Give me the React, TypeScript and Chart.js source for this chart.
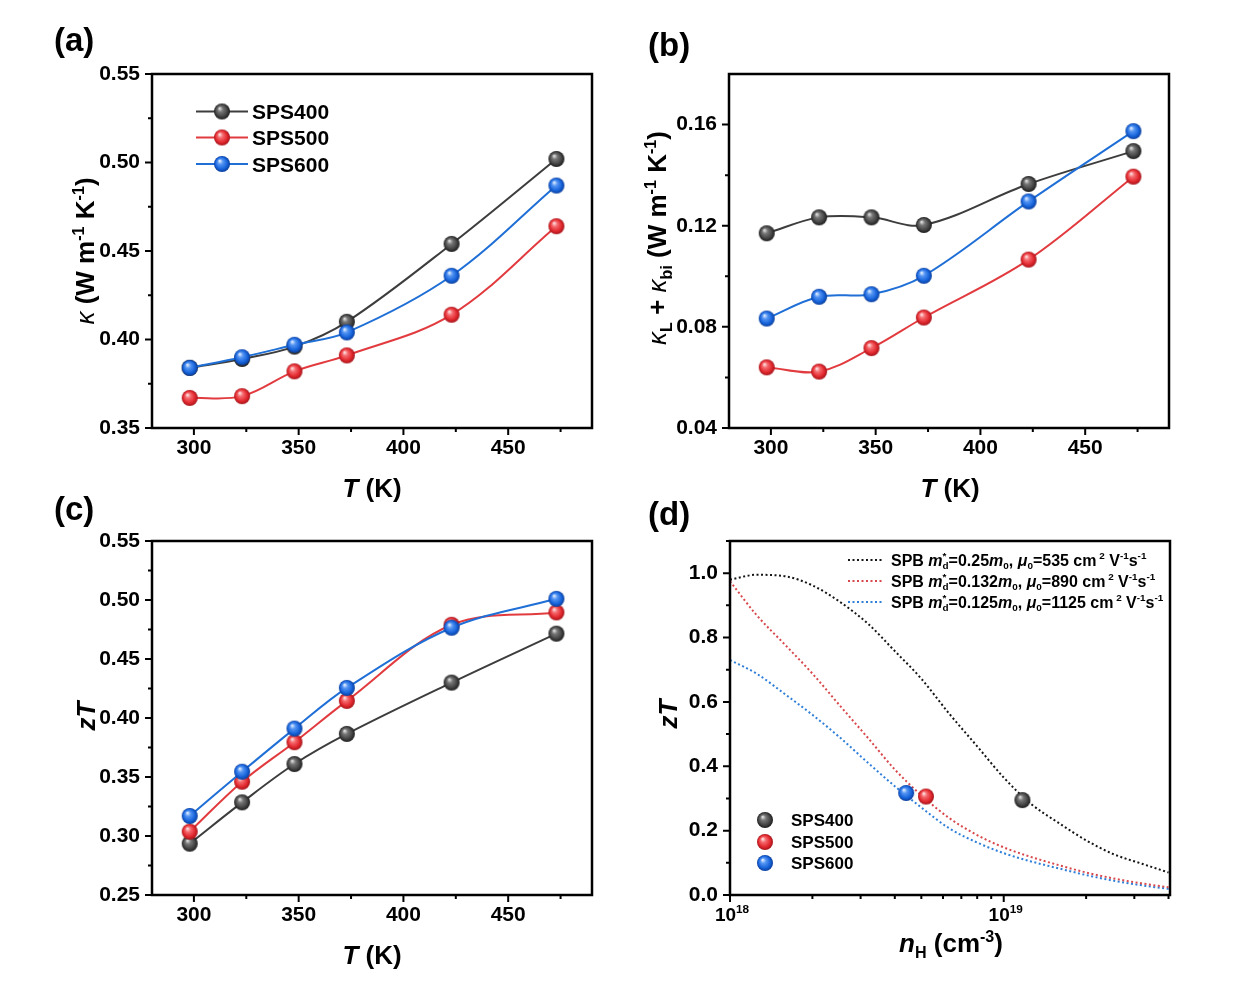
import React, { useEffect, useRef } from 'react';
import { Chart, registerables } from 'chart.js';

Chart.register(...registerables);

// ---------------- data ----------------
const seriesNames = ['SPS400', 'SPS500', 'SPS600'];
const temperatures = [298, 323, 348, 373, 423, 473];

const kappaSPS400 = [0.384, 0.389, 0.396, 0.41, 0.454, 0.502];
const kappaSPS500 = [0.367, 0.368, 0.382, 0.391, 0.414, 0.464];
const kappaSPS600 = [0.384, 0.39, 0.397, 0.404, 0.436, 0.487];

const kLbiSPS400 = [0.117, 0.1233, 0.1233, 0.1203, 0.1365, 0.1495];
const kLbiSPS500 = [0.064, 0.0623, 0.0716, 0.0837, 0.1066, 0.1394];
const kLbiSPS600 = [0.0833, 0.0919, 0.0929, 0.1002, 0.1296, 0.1574];

const zTSPS400 = [0.2935, 0.3285, 0.361, 0.3865, 0.43, 0.4715];
const zTSPS500 = [0.3037, 0.346, 0.3795, 0.4145, 0.479, 0.4895];
const zTSPS600 = [0.317, 0.3545, 0.391, 0.4255, 0.4765, 0.501];

const nHGrid = [1e18, 1.25e18, 1.6e18, 2e18, 2.5e18, 3.2e18, 4e18, 5e18, 6.3e18, 8e18, 1e19, 1.25e19, 1.6e19, 2e19, 2.5e19, 3.2e19, 4e19];
const spbZT_m025 = [0.98, 0.995, 0.99, 0.962, 0.913, 0.842, 0.758, 0.672, 0.565, 0.462, 0.365, 0.285, 0.222, 0.17, 0.128, 0.097, 0.07];
const spbZT_m0132 = [0.975, 0.87, 0.775, 0.688, 0.592, 0.487, 0.39, 0.31, 0.24, 0.186, 0.148, 0.119, 0.092, 0.07, 0.052, 0.036, 0.024];
const spbZT_m0125 = [0.73, 0.688, 0.622, 0.56, 0.492, 0.41, 0.338, 0.272, 0.208, 0.163, 0.13, 0.105, 0.082, 0.062, 0.045, 0.03, 0.019];
const spbMass = ['0.25', '0.132', '0.125'];
const spbMobility = ['535', '890', '1125'];

const measuredNH = [1.17e19, 5.2e18, 4.4e18];
const measuredZT = [0.295, 0.306, 0.317];

const tempTicks = [300, 350, 400, 450];
const tempMinorTicks = [325, 375, 425, 475];
const kappaTicks = [0.35, 0.4, 0.45, 0.5, 0.55];
const kappaMinorTicks = [0.375, 0.425, 0.475, 0.525];
const kLbiTicks = [0.04, 0.08, 0.12, 0.16];
const kLbiMinorTicks = [0.06, 0.1, 0.14];
const zTTicks = [0.25, 0.3, 0.35, 0.4, 0.45, 0.5, 0.55];
const zTMinorTicks = [0.275, 0.325, 0.375, 0.425, 0.475, 0.525];
const nHTicks = [1e18, 1e19];
const nHMinorTicks = [2e18, 3e18, 4e18, 5e18, 6e18, 7e18, 8e18, 9e18, 2e19, 3e19, 4e19];
const zTdTicks = [0, 0.2, 0.4, 0.6, 0.8, 1.0];
const zTdMinorTicks = [0.1, 0.3, 0.5, 0.7, 0.9, 1.1];

// ---------------- style ----------------
const W = 1239;
const H = 981;
const FAM = "'Liberation Sans', Arial, Helvetica, sans-serif";
const LINE_COLORS = ['#3d3d3d', '#e23b3f', '#1f6fd6'];
const DOT_COLORS = ['#151515', '#d8474b', '#2f7fd8'];
const BALL_STOPS = [
  ['#e0e0e0', '#777777', '#444444', '#1c1c1c'],
  ['#ffe0e0', '#f46a6e', '#e2282e', '#a3141a'],
  ['#e0ecff', '#5595f2', '#1764dc', '#0a3d9a'],
];

type Seg = { t: string; i?: boolean; n?: boolean; sub?: boolean; sup?: boolean; stack?: boolean };

function segFont(s: Seg, size: number) {
  const sz = s.sub || s.sup ? size * 0.62 : size;
  return `${s.i ? 'italic ' : ''}${s.n ? 'normal' : 'bold'} ${sz}px ${FAM}`;
}

function layoutRich(ctx: CanvasRenderingContext2D, segs: Seg[], size: number) {
  let cx = 0;
  let lastStart = 0;
  let lastW = 0;
  const items: { s: Seg; x: number }[] = [];
  for (const s of segs) {
    ctx.font = segFont(s, size);
    const w = ctx.measureText(s.t).width;
    if (s.stack) {
      items.push({ s, x: lastStart });
      cx = lastStart + Math.max(lastW, w);
    } else {
      items.push({ s, x: cx });
      lastStart = cx;
      lastW = w;
      cx += w;
    }
  }
  return { items, width: cx };
}

function drawRich(
  ctx: CanvasRenderingContext2D,
  segs: Seg[],
  x: number,
  y: number,
  size: number,
  align: 'left' | 'center' = 'center',
  rotate = false
) {
  ctx.save();
  ctx.translate(x, y);
  if (rotate) ctx.rotate(-Math.PI / 2);
  const { items, width } = layoutRich(ctx, segs, size);
  const x0 = align === 'center' ? -width / 2 : 0;
  const base = size * 0.36;
  ctx.textAlign = 'left';
  ctx.textBaseline = 'alphabetic';
  ctx.fillStyle = '#000';
  for (const it of items) {
    ctx.font = segFont(it.s, size);
    const dy = it.s.sub ? size * 0.2 : it.s.sup ? -size * 0.4 : 0;
    ctx.fillText(it.s.t, x0 + it.x, base + dy);
  }
  ctx.restore();
}

const ballCache: HTMLCanvasElement[] = [];
function ball(i: number): HTMLCanvasElement {
  if (ballCache[i]) return ballCache[i];
  const r = 8;
  const s = r * 2 + 2;
  const c = document.createElement('canvas');
  c.width = s;
  c.height = s;
  const g = c.getContext('2d')!;
  const cx = s / 2;
  const cy = s / 2;
  const st = BALL_STOPS[i];
  const grad = g.createRadialGradient(cx - r * 0.3, cy - r * 0.4, r * 0.05, cx, cy, r);
  grad.addColorStop(0, st[0]);
  grad.addColorStop(0.3, st[1]);
  grad.addColorStop(0.72, st[2]);
  grad.addColorStop(1, st[3]);
  g.fillStyle = grad;
  g.beginPath();
  g.arc(cx, cy, r, 0, Math.PI * 2);
  g.fill();
  ballCache[i] = c;
  return c;
}

// ---------------- panel definitions ----------------
type Rect = { l: number; t: number; r: number; b: number };
interface PanelDef {
  key: string;
  rect: Rect;
  xType: 'linear' | 'logarithmic';
  xMin: number;
  xMax: number;
  xTicks: number[];
  xMinor: number[];
  yMin: number;
  yMax: number;
  yTicks: number[];
  yMinor: number[];
  yDec: number;
  label: string;
  labelPos: [number, number];
  xTitle: Seg[];
  xTitlePos: [number, number];
  yTitle: Seg[];
  yTitlePos: [number, number];
  datasets: () => any[];
  extra?: (ctx: CanvasRenderingContext2D, chart: any) => void;
}

const unitSegs: Seg[] = [{ t: ' (W m' }, { t: '-1', sup: true }, { t: ' K' }, { t: '-1', sup: true }, { t: ')' }];
const tSegs: Seg[] = [{ t: 'T', i: true }, { t: ' (K)' }];
const zTSegs: Seg[] = [{ t: 'z', i: true }, { t: 'T', i: true }];

function tempDatasets(series: number[][]) {
  return series.map((vals, i) => ({
    label: seriesNames[i],
    data: temperatures.map((t, k) => ({ x: t, y: vals[k] })),
    borderColor: LINE_COLORS[i],
    borderWidth: 2,
    tension: 0.35,
    pointStyle: ball(i),
    pointRadius: 8,
    order: 2 - i,
  }));
}

function legendLines(ctx: CanvasRenderingContext2D) {
  const rows = [111.5, 137.5, 164];
  rows.forEach((y, i) => {
    ctx.save();
    ctx.strokeStyle = LINE_COLORS[i];
    ctx.lineWidth = 2;
    ctx.beginPath();
    ctx.moveTo(196, y);
    ctx.lineTo(248, y);
    ctx.stroke();
    const b = ball(i);
    ctx.drawImage(b, 222 - b.width / 2, y - b.height / 2);
    ctx.restore();
    drawRich(ctx, [{ t: seriesNames[i] }], 252, y, 21, 'left');
  });
}

function legendD(ctx: CanvasRenderingContext2D, chart: any) {
  const rowsTop = [560, 581, 602];
  rowsTop.forEach((y, i) => {
    ctx.save();
    ctx.strokeStyle = DOT_COLORS[i];
    ctx.lineWidth = 2;
    ctx.setLineDash([2, 2.5]);
    ctx.beginPath();
    ctx.moveTo(848, y);
    ctx.lineTo(884, y);
    ctx.stroke();
    ctx.restore();
    const segs: Seg[] = [
      { t: 'SPB ' },
      { t: 'm', i: true },
      { t: 'd', sub: true },
      { t: '*', sup: true, stack: true },
      { t: '=' + spbMass[i] },
      { t: 'm', i: true },
      { t: '0', sub: true },
      { t: ', ' },
      { t: 'μ', i: true },
      { t: '0', sub: true },
      { t: '=' + spbMobility[i] + ' cm' },
      { t: ' 2', sup: true },
      { t: ' V' },
      { t: '-1', sup: true },
      { t: 's' },
      { t: '-1', sup: true },
    ];
    drawRich(ctx, segs, 891, y, 16, 'left');
  });
  const rowsBot = [820, 842, 863];
  rowsBot.forEach((y, i) => {
    const b = ball(i);
    ctx.drawImage(b, 765 - b.width / 2, y - b.height / 2);
    drawRich(ctx, [{ t: seriesNames[i] }], 791, y, 17, 'left');
  });
  const xs = chart.scales.x;
  nHTicks.forEach((v) => {
    const px = xs.getPixelForValue(v);
    const exp = Math.round(Math.log10(v)).toString();
    drawRich(ctx, [{ t: '10' }, { t: exp, sup: true }], px + 2, 914, 19, 'center');
  });
}

const panels: PanelDef[] = [
  {
    key: 'a',
    rect: { l: 152, t: 74, r: 592, b: 428 },
    xType: 'linear',
    xMin: 280,
    xMax: 490,
    xTicks: tempTicks,
    xMinor: tempMinorTicks,
    yMin: 0.35,
    yMax: 0.55,
    yTicks: kappaTicks,
    yMinor: kappaMinorTicks,
    yDec: 2,
    label: '(a)',
    labelPos: [54, 51],
    xTitle: tSegs,
    xTitlePos: [372, 488],
    yTitle: [{ t: 'κ', i: true, n: true }, ...unitSegs],
    yTitlePos: [85, 251],
    datasets: () => tempDatasets([kappaSPS400, kappaSPS500, kappaSPS600]),
    extra: (ctx) => legendLines(ctx),
  },
  {
    key: 'b',
    rect: { l: 729, t: 74, r: 1169, b: 428 },
    xType: 'linear',
    xMin: 280,
    xMax: 490,
    xTicks: tempTicks,
    xMinor: tempMinorTicks,
    yMin: 0.04,
    yMax: 0.18,
    yTicks: kLbiTicks,
    yMinor: kLbiMinorTicks,
    yDec: 2,
    label: '(b)',
    labelPos: [648, 56],
    xTitle: tSegs,
    xTitlePos: [950, 488],
    yTitle: [
      { t: 'κ', i: true, n: true },
      { t: 'L', sub: true },
      { t: ' + ' },
      { t: 'κ', i: true, n: true },
      { t: 'bi', sub: true },
      ...unitSegs,
    ],
    yTitlePos: [657, 238],
    datasets: () => tempDatasets([kLbiSPS400, kLbiSPS500, kLbiSPS600]),
  },
  {
    key: 'c',
    rect: { l: 152, t: 541, r: 592, b: 895 },
    xType: 'linear',
    xMin: 280,
    xMax: 490,
    xTicks: tempTicks,
    xMinor: tempMinorTicks,
    yMin: 0.25,
    yMax: 0.55,
    yTicks: zTTicks,
    yMinor: zTMinorTicks,
    yDec: 2,
    label: '(c)',
    labelPos: [54, 520],
    xTitle: tSegs,
    xTitlePos: [372, 955],
    yTitle: zTSegs,
    yTitlePos: [86, 716],
    datasets: () => tempDatasets([zTSPS400, zTSPS500, zTSPS600]),
  },
  {
    key: 'd',
    rect: { l: 730, t: 541, r: 1170, b: 895 },
    xType: 'logarithmic',
    xMin: 1e18,
    xMax: 4.05e19,
    xTicks: nHTicks,
    xMinor: nHMinorTicks,
    yMin: 0,
    yMax: 1.1,
    yTicks: zTdTicks,
    yMinor: zTdMinorTicks,
    yDec: 1,
    label: '(d)',
    labelPos: [648, 525],
    xTitle: [{ t: 'n', i: true }, { t: 'H', sub: true }, { t: ' (cm' }, { t: '-3', sup: true }, { t: ')' }],
    xTitlePos: [951, 943],
    yTitle: zTSegs,
    yTitlePos: [668, 714],
    datasets: () => {
      const curves = [spbZT_m025, spbZT_m0132, spbZT_m0125].map((vals, i) => ({
        label: 'SPB ' + spbMass[i],
        data: nHGrid.map((n, k) => ({ x: n, y: vals[k] })),
        borderColor: DOT_COLORS[i],
        borderWidth: 2,
        borderDash: [2, 2.5],
        cubicInterpolationMode: 'monotone',
        pointRadius: 0,
        order: 5,
      }));
      const pts = measuredNH.map((n, i) => ({
        label: seriesNames[i],
        data: [{ x: n, y: measuredZT[i] }],
        showLine: false,
        pointStyle: ball(i),
        pointRadius: 8,
        order: 2 - i,
      }));
      return [...curves, ...pts];
    },
    extra: (ctx, chart) => legendD(ctx, chart),
  },
];

function decoPlugin(p: PanelDef) {
  return {
    id: 'deco_' + p.key,
    afterDraw(chart: any) {
      const ctx: CanvasRenderingContext2D = chart.ctx;
      const { left, right, top, bottom } = chart.chartArea;
      const xs = chart.scales.x;
      const ys = chart.scales.y;
      ctx.save();
      ctx.strokeStyle = '#000';
      ctx.lineWidth = 2.5;
      ctx.strokeRect(left, top, right - left, bottom - top);
      ctx.lineWidth = 2;
      ctx.beginPath();
      const xt = (vals: number[], len: number) => {
        vals.forEach((v) => {
          const px = xs.getPixelForValue(v);
          if (px < left - 0.5 || px > right + 0.5) return;
          ctx.moveTo(px, bottom);
          ctx.lineTo(px, bottom + len);
        });
      };
      const yt = (vals: number[], len: number) => {
        vals.forEach((v) => {
          const py = ys.getPixelForValue(v);
          if (py < top - 0.5 || py > bottom + 0.5) return;
          ctx.moveTo(left, py);
          ctx.lineTo(left - len, py);
        });
      };
      xt(p.xTicks, 7);
      xt(p.xMinor, 4);
      yt(p.yTicks, 7);
      yt(p.yMinor, 4);
      ctx.stroke();
      ctx.restore();

      ctx.save();
      ctx.fillStyle = '#000';
      ctx.font = `bold 33px ${FAM}`;
      ctx.textAlign = 'left';
      ctx.textBaseline = 'alphabetic';
      ctx.fillText(p.label, p.labelPos[0], p.labelPos[1]);
      ctx.restore();

      drawRich(ctx, p.xTitle, p.xTitlePos[0], p.xTitlePos[1], 26, 'center');
      drawRich(ctx, p.yTitle, p.yTitlePos[0], p.yTitlePos[1], 26, 'center', true);
      if (p.extra) p.extra(ctx, chart);
    },
  };
}

function buildChart(canvas: HTMLCanvasElement, p: PanelDef) {
  const yWidth = 100;
  const xHeight = 30;
  const tickFont = { family: FAM, size: 21, weight: 'bold' as const };
  return new Chart(canvas, {
    type: 'line',
    data: { datasets: p.datasets() },
    options: {
      responsive: false,
      animation: false,
      devicePixelRatio: 1,
      events: [],
      layout: {
        padding: {
          left: p.rect.l - yWidth,
          top: p.rect.t,
          right: W - p.rect.r,
          bottom: H - p.rect.b - xHeight,
        },
      },
      plugins: { legend: { display: false }, tooltip: { enabled: false } },
      scales: {
        x: {
          type: p.xType,
          min: p.xMin,
          max: p.xMax,
          grid: { display: false, drawTicks: false },
          border: { display: false },
          ticks: {
            display: p.xType === 'linear',
            font: tickFont,
            color: '#000',
            padding: 8,
            maxRotation: 0,
            autoSkip: false,
            callback: (v: any) => String(v),
          },
          afterBuildTicks: (s: any) => {
            s.ticks = p.xTicks.map((v) => ({ value: v }));
          },
          afterFit: (s: any) => {
            s.height = xHeight;
          },
        } as any,
        y: {
          type: 'linear',
          min: p.yMin,
          max: p.yMax,
          grid: { display: false, drawTicks: false },
          border: { display: false },
          ticks: {
            font: tickFont,
            color: '#000',
            padding: 12,
            autoSkip: false,
            callback: (v: any) => Number(v).toFixed(p.yDec),
          },
          afterBuildTicks: (s: any) => {
            s.ticks = p.yTicks.map((v) => ({ value: v }));
          },
          afterFit: (s: any) => {
            s.width = yWidth;
          },
        } as any,
      },
    },
    plugins: [decoPlugin(p)],
  });
}

function PanelCanvas({ p }: { p: PanelDef }) {
  const ref = useRef<HTMLCanvasElement | null>(null);
  useEffect(() => {
    if (!ref.current) return;
    const chart = buildChart(ref.current, p);
    return () => chart.destroy();
  }, [p]);
  return (
    <canvas
      ref={ref}
      width={W}
      height={H}
      style={{ position: 'absolute', left: 0, top: 0, width: W, height: H }}
    />
  );
}

export default function App() {
  return (
    <div
      style={{
        position: 'fixed',
        left: 0,
        top: 0,
        width: W,
        height: H,
        background: '#ffffff',
        overflow: 'hidden',
      }}
    >
      {panels.map((p) => (
        <PanelCanvas key={p.key} p={p} />
      ))}
    </div>
  );
}
